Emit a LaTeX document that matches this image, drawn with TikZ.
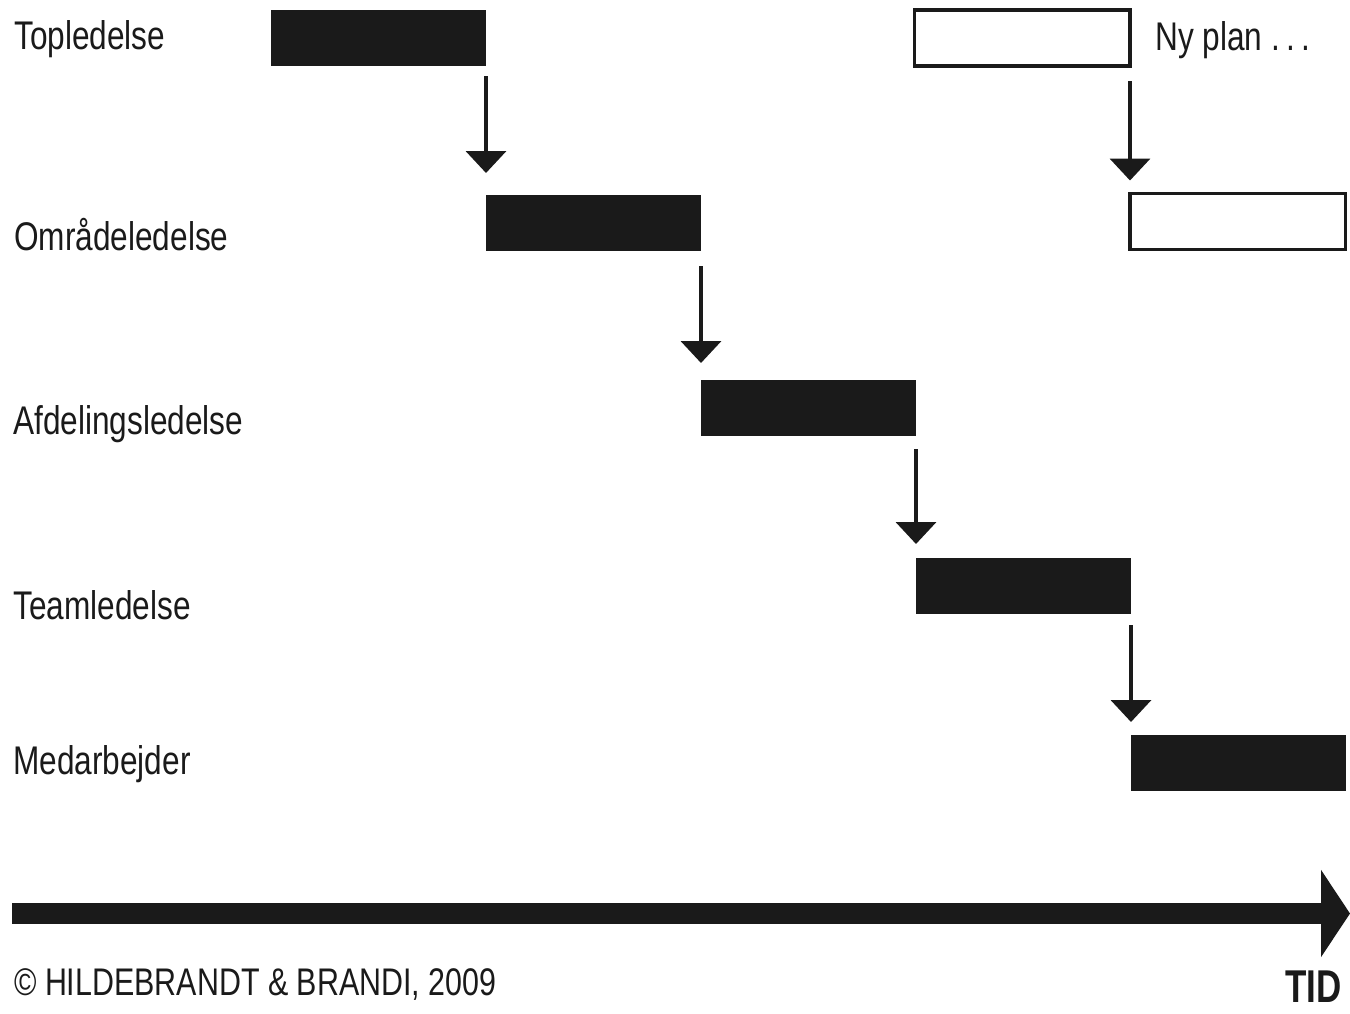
\documentclass[tikz,border=0pt]{standalone}
\usepackage{fontspec}
\setmainfont[FakeStretch=0.79]{Liberation Sans}
\newfontfamily\tidfont[FakeStretch=0.76]{Liberation Sans}
\usetikzlibrary{arrows.meta}
\definecolor{ink}{HTML}{1A1A1A}
\begin{document}
\begin{tikzpicture}[x=1pt,y=-1pt,
  label/.style={anchor=base west,inner sep=0pt,text=ink,font=\fontsize{40}{45}\selectfont},
  bar/.style={fill=ink,draw=none,minimum width=215pt,minimum height=56pt,inner sep=0pt,outer sep=0pt,anchor=north west},
  plan/.style={draw=ink,line width=3.5pt,fill=white,minimum width=215.5pt,minimum height=56pt,inner sep=0pt,outer sep=0pt,anchor=north west},
  flow/.style={draw=ink,line width=4pt,-{Triangle[width=40pt,length=22pt]}},
  time/.style={draw=ink,line width=21pt,-{Triangle[width=86pt,length=29pt]}}]
  \useasboundingbox (0,0) rectangle (1350,1013);

  % levels
  \node[label] (l1) at (14,49) {Topledelse};
  \node[label] (l2) at (14,250) {Områdeledelse};
  \node[label] (l3) at (13,434) {Afdelingsledelse};
  \node[label] (l4) at (13,619) {Teamledelse};
  \node[label] (l5) at (13,774) {Medarbejder};

  % cascading plans: each starts where the one above ends
  \node[bar] (b1) at (271,10) {};
  \node[bar] (b2) at (b1.north east |- 0,195) {};
  \node[bar] (b3) at (b2.north east |- 0,380) {};
  \node[bar] (b4) at (b3.north east |- 0,558) {};
  \node[bar] (b5) at (b4.north east |- 0,735) {};

  % next planning round
  \node[plan] (p1) at (914.5,10) {};
  \node[plan] (p2) at (p1.north east |- 0,193.5) {};
  \node[label] (np) at (1155,50) {Ny plan .\,.\,.};

  % hand-over arrows
  \draw[flow] ([yshift=-10pt]b1.south east) -- ([yshift=22pt]b2.north west);
  \draw[flow] ([yshift=-15pt]b2.south east) -- ([yshift=17pt]b3.north west);
  \draw[flow] ([yshift=-13pt]b3.south east) -- ([yshift=14pt]b4.north west);
  \draw[flow] ([yshift=-11pt]b4.south east) -- ([yshift=13pt]b5.north west);
  \draw[flow] ([yshift=-15pt]p1.south east) -- ([yshift=13pt]p2.north west);

  % time axis
  \coordinate (t0) at (12,913.5);
  \coordinate (t1) at (1350,913.5);
  \draw[time] (t0) -- (t1);
  \node[anchor=base east,inner sep=0pt,text=ink,font=\tidfont\bfseries\fontsize{46}{52}\selectfont] (tid) at (1342,1002) {TID};
  \node[label,font=\fontsize{38.5}{43}\selectfont] (cr) at (14,995) {© HILDEBRANDT \& BRANDI, 2009};
\end{tikzpicture}
\end{document}
